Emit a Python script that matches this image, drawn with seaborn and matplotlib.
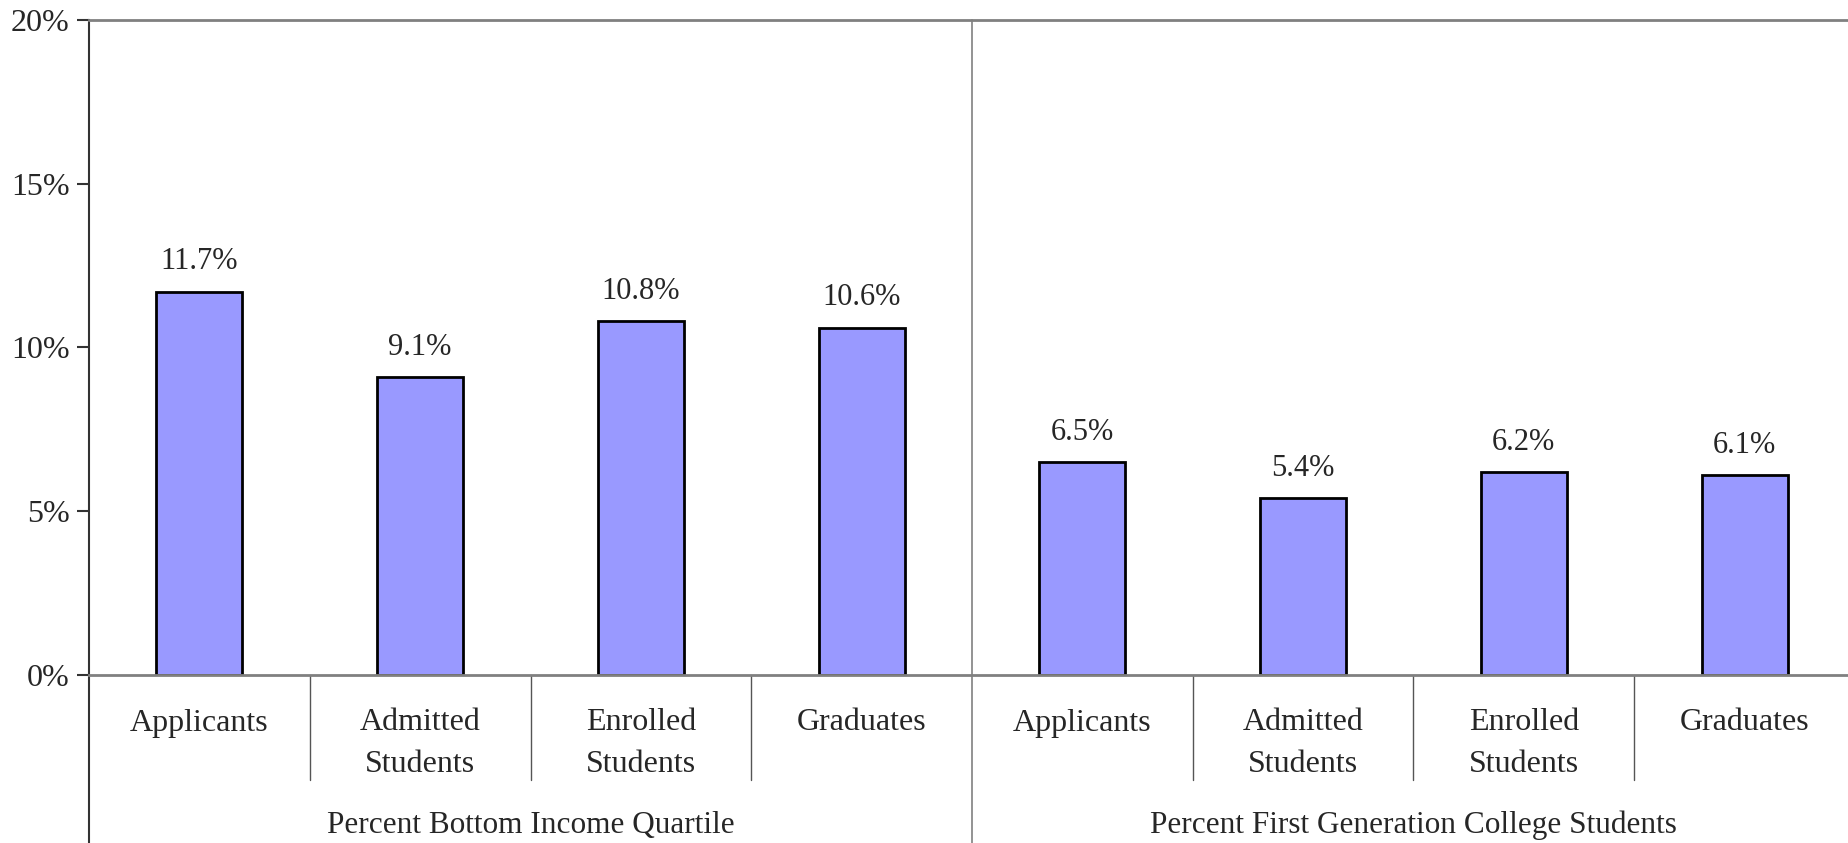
import matplotlib
matplotlib.use("Agg")
import matplotlib.pyplot as plt
import seaborn as sns
import pandas as pd

groups = ["Percent Bottom Income Quartile", "Percent First Generation College Students"]
categories = ["Applicants", "Admitted\nStudents", "Enrolled\nStudents", "Graduates"]
income_values = [11.7, 9.1, 10.8, 10.6]
firstgen_values = [6.5, 5.4, 6.2, 6.1]
value_labels = ["11.7%", "9.1%", "10.8%", "10.6%", "6.5%", "5.4%", "6.2%", "6.1%"]
yticks = [0, 5, 10, 15, 20]
ytick_labels = ["0%", "5%", "10%", "15%", "20%"]

rows = []
for g, vals in zip(groups, [income_values, firstgen_values]):
    for c, v in zip(categories, vals):
        rows.append({"key": f"{g}|{c}", "group": g, "category": c, "value": v})
df = pd.DataFrame(rows)

sns.set_theme(style="white")
plt.rcParams["font.family"] = ["Liberation Serif", "DejaVu Serif"]

fig = plt.figure(figsize=(18.48, 8.43), dpi=100)
ax = fig.add_axes([89 / 1848, 168 / 843, 1766 / 1848, 655 / 843])

sns.barplot(data=df, x="key", y="value", color="#9999FF", width=0.39,
            edgecolor="black", linewidth=2, saturation=1, ax=ax)

ax.set_xlim(-0.5, 7.5)
ax.set_ylim(0, 20)
ax.set_yticks(yticks)
ax.set_yticklabels(ytick_labels, fontsize=23)
ax.set_xticks([])
ax.set_xlabel("")
ax.set_ylabel("")
ax.tick_params(axis="y", direction="out", length=9, width=1.5, color="#333333", pad=5, left=True)

for side in ["top", "bottom"]:
    ax.spines[side].set_color("#808080")
    ax.spines[side].set_linewidth(2)
ax.spines["left"].set_color("#333333")
ax.spines["left"].set_linewidth(1.5)
ax.spines["right"].set_visible(False)

# bar value labels
for p, lab in zip(ax.patches, value_labels):
    x = p.get_x() + p.get_width() / 2
    h = p.get_height()
    ax.annotate(lab, (x, h), xytext=(0, 21.5), textcoords="offset points",
                ha="center", va="center", fontsize=22)

trans = ax.get_xaxis_transform()
# left spine extension below axis
ax.plot([-0.5, -0.5], [0, -0.3], transform=trans, clip_on=False, color="#333333", lw=1.5)
# group divider
ax.plot([3.5, 3.5], [1, -0.3], transform=trans, clip_on=False, color="#808080", lw=1.2)
# category dividers
for xd in [0.5, 1.5, 2.5, 4.5, 5.5, 6.5]:
    ax.plot([xd, xd], [0, -105 / 655], transform=trans, clip_on=False, color="#555555", lw=1)

# category labels
line_y = [-48 / 655, -89 / 655]
for i, row in df.iterrows():
    for li, part in enumerate(row["category"].split("\n")):
        ax.text(i, line_y[li], part, transform=trans, ha="center", va="center", fontsize=23)

for gi, g in enumerate(groups):
    ax.text(1.5 + 4 * gi, -150 / 655, g, transform=trans, ha="center", va="center", fontsize=22.5)

fig.savefig("out.png", dpi=100)
